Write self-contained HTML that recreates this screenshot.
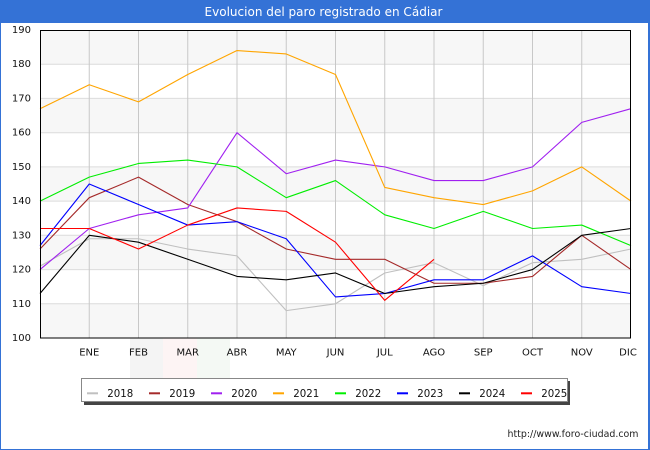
<!DOCTYPE html>
<html><head><meta charset="utf-8"><style>
html,body{margin:0;padding:0;background:#fff;}
svg{display:block;}
text{font-family:"DejaVu Sans","Liberation Sans",sans-serif;}
</style></head><body>
<svg width="650" height="450" viewBox="0 0 650 450" xmlns="http://www.w3.org/2000/svg">
<rect x="0" y="0" width="650" height="450" fill="#fff"/>
<!-- outer frame -->
<rect x="0" y="0" width="1" height="450" fill="#3472d6"/>
<rect x="648" y="0" width="2" height="450" fill="#3472d6"/>
<rect x="0" y="449" width="650" height="1" fill="#3472d6"/>
<rect x="0" y="0" width="650" height="23" fill="#3472d6"/>
<text x="323.5" y="16" font-size="12" fill="#fff" text-anchor="middle" textLength="238" lengthAdjust="spacingAndGlyphs">Evolucion del paro registrado en Cádiar</text>

<!-- watermark -->
<rect x="130" y="338" width="33" height="40" fill="#f4f4f4"/>
<rect x="163" y="338" width="34" height="40" fill="#fdf4f4"/>
<rect x="197" y="338" width="33" height="40" fill="#f4f9f4"/>

<!-- bands -->
<g fill="#f7f7f7">
<rect x="40" y="30" width="591" height="34.2"/>
<rect x="40" y="98.4" width="591" height="34.3"/>
<rect x="40" y="166.9" width="591" height="34.2"/>
<rect x="40" y="235.3" width="591" height="34.3"/>
<rect x="40" y="303.8" width="591" height="34.2"/>
</g>
<!-- horizontal grid -->
<g stroke="#dcdcdc" stroke-width="1">
<line x1="40" x2="631" y1="64.2" y2="64.2"/>
<line x1="40" x2="631" y1="98.4" y2="98.4"/>
<line x1="40" x2="631" y1="132.7" y2="132.7"/>
<line x1="40" x2="631" y1="166.9" y2="166.9"/>
<line x1="40" x2="631" y1="201.1" y2="201.1"/>
<line x1="40" x2="631" y1="235.3" y2="235.3"/>
<line x1="40" x2="631" y1="269.6" y2="269.6"/>
<line x1="40" x2="631" y1="303.8" y2="303.8"/>
</g>
<!-- vertical grid -->
<g stroke="#c8c8c8" stroke-width="1">
<line y1="30" y2="338" x1="89.25" x2="89.25"/>
<line y1="30" y2="338" x1="138.5" x2="138.5"/>
<line y1="30" y2="338" x1="187.75" x2="187.75"/>
<line y1="30" y2="338" x1="237" x2="237"/>
<line y1="30" y2="338" x1="286.25" x2="286.25"/>
<line y1="30" y2="338" x1="335.5" x2="335.5"/>
<line y1="30" y2="338" x1="384.75" x2="384.75"/>
<line y1="30" y2="338" x1="434" x2="434"/>
<line y1="30" y2="338" x1="483.25" x2="483.25"/>
<line y1="30" y2="338" x1="532.5" x2="532.5"/>
<line y1="30" y2="338" x1="581.75" x2="581.75"/>
</g>

<!-- series -->
<g transform="matrix(49.25 0 0 -3.4222 40 680.22)" fill="none" stroke-width="1.1" stroke-linejoin="round">
<polyline vector-effect="non-scaling-stroke" stroke="#c0c0c0" points="0,121 1,129 2,129 3,126 4,124 5,108 6,110 7,119 8,122 9,115.3 10,122 11,123 12,126"/>
<polyline vector-effect="non-scaling-stroke" stroke="#a52a2a" points="0,126 1,141 2,147 3,139 4,134 5,126 6,123 7,123 8,116 9,116 10,118 11,130 12,120"/>
<polyline vector-effect="non-scaling-stroke" stroke="#a020f0" points="0,120 1,132 2,136 3,138 4,160 5,148 6,152 7,150 8,146 9,146 10,150 11,163 12,167"/>
<polyline vector-effect="non-scaling-stroke" stroke="#ffa500" points="0,167 1,174 2,169 3,177 4,184 5,183 6,177 7,144 8,141 9,139 10,143 11,150 12,140"/>
<polyline vector-effect="non-scaling-stroke" stroke="#00ee00" points="0,140 1,147 2,151 3,152 4,150 5,141 6,146 7,136 8,132 9,137 10,132 11,133 12,127"/>
<polyline vector-effect="non-scaling-stroke" stroke="#0000ff" points="0,127 1,145 2,139 3,133 4,134 5,129 6,112 7,113 8,117 9,117 10,124 11,115 12,113"/>
<polyline vector-effect="non-scaling-stroke" stroke="#000000" points="0,113 1,130 2,128 3,123 4,118 5,117 6,119 7,113 8,115 9,116 10,120 11,130 12,132"/>
<polyline vector-effect="non-scaling-stroke" stroke="#ff0000" points="0,132 1,132 2,126 3,133 4,138 5,137 6,128 7,111 8,123"/>
</g>

<!-- plot border -->
<rect x="40.5" y="30.5" width="590" height="307.5" fill="none" stroke="#000" stroke-width="1"/>

<!-- y labels -->
<g font-size="10" fill="#111" text-anchor="end">
<text x="31" y="33">190</text>
<text x="31" y="67.2">180</text>
<text x="31" y="101.4">170</text>
<text x="31" y="135.7">160</text>
<text x="31" y="169.9">150</text>
<text x="31" y="204.1">140</text>
<text x="31" y="238.3">130</text>
<text x="31" y="272.6">120</text>
<text x="31" y="306.8">110</text>
<text x="31" y="341">100</text>
</g>
<!-- x labels -->
<g font-size="10" fill="#111" text-anchor="middle">
<text x="89.25" y="355.5">ENE</text>
<text x="138.5" y="355.5">FEB</text>
<text x="187.75" y="355.5">MAR</text>
<text x="237" y="355.5">ABR</text>
<text x="286.25" y="355.5">MAY</text>
<text x="335.5" y="355.5">JUN</text>
<text x="384.75" y="355.5">JUL</text>
<text x="434" y="355.5">AGO</text>
<text x="483.25" y="355.5">SEP</text>
<text x="532.5" y="355.5">OCT</text>
<text x="581.75" y="355.5">NOV</text>
<text x="628" y="355.5">DIC</text>
</g>

<!-- legend -->
<rect x="84" y="381" width="486" height="24" fill="#444"/>
<rect x="81.5" y="378.5" width="486" height="23" fill="#fff" stroke="#888" stroke-width="1"/>
<g stroke-width="2">
<line x1="87" x2="98" y1="393.3" y2="393.3" stroke="#c0c0c0"/>
<line x1="149" x2="160" y1="393.3" y2="393.3" stroke="#a52a2a"/>
<line x1="211" x2="222" y1="393.3" y2="393.3" stroke="#a020f0"/>
<line x1="273" x2="284" y1="393.3" y2="393.3" stroke="#ffa500"/>
<line x1="335" x2="346" y1="393.3" y2="393.3" stroke="#00ee00"/>
<line x1="397" x2="408" y1="393.3" y2="393.3" stroke="#0000ff"/>
<line x1="459" x2="470" y1="393.3" y2="393.3" stroke="#000000"/>
<line x1="521" x2="532" y1="393.3" y2="393.3" stroke="#ff0000"/>
</g>
<g font-size="10.5" fill="#111">
<text x="107.3" y="396.8" textLength="26" lengthAdjust="spacingAndGlyphs">2018</text>
<text x="169.3" y="396.8" textLength="26" lengthAdjust="spacingAndGlyphs">2019</text>
<text x="231.3" y="396.8" textLength="26" lengthAdjust="spacingAndGlyphs">2020</text>
<text x="293.3" y="396.8" textLength="26" lengthAdjust="spacingAndGlyphs">2021</text>
<text x="355.3" y="396.8" textLength="26" lengthAdjust="spacingAndGlyphs">2022</text>
<text x="417.3" y="396.8" textLength="26" lengthAdjust="spacingAndGlyphs">2023</text>
<text x="479.3" y="396.8" textLength="26" lengthAdjust="spacingAndGlyphs">2024</text>
<text x="541.3" y="396.8" textLength="26" lengthAdjust="spacingAndGlyphs">2025</text>
</g>

<!-- footer -->
<text x="507.5" y="437" font-size="9.5" fill="#222" textLength="131" lengthAdjust="spacingAndGlyphs">http://www.foro-ciudad.com</text>
</svg>
</body></html>
